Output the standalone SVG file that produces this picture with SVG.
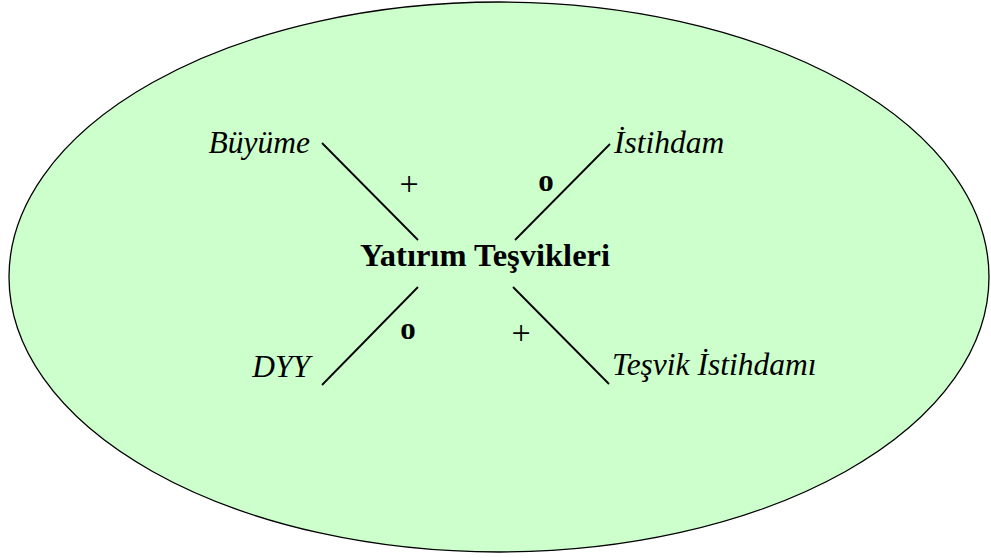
<svg xmlns="http://www.w3.org/2000/svg" width="991" height="558" viewBox="0 0 991 558">
<style>
.lbl{font-family:"Liberation Serif","Times New Roman",serif;font-size:31.5px;font-style:italic;fill:#000}
.sign{font-family:"Liberation Serif","Times New Roman",serif;font-size:34px;fill:#000}
.bold{font-weight:bold;font-size:31px}
.conn line{stroke:#000;stroke-width:1.8}
</style>
<rect width="991" height="558" fill="#ffffff"/>
<g id="bg">
<ellipse cx="499" cy="277" rx="490" ry="275" fill="#CCFFCC" stroke="#000" stroke-width="1.3"/>
</g>
<g id="center"><text x="485" y="266" text-anchor="middle" font-family="Liberation Serif, Times New Roman, serif" font-size="32.5" font-weight="bold">Yatırım Teşvikleri</text></g>
<g id="buyume"><text class="lbl" x="310" y="153" text-anchor="end">Büyüme</text></g>
<g id="istihdam"><text class="lbl" x="614" y="153">İstihdam</text></g>
<g id="dyy"><text class="lbl" x="310" y="377" text-anchor="end">DYY</text></g>
<g id="tesvik"><text class="lbl" x="612" y="375">Teşvik İstihdamı</text></g>
<g class="conn" id="connectors">
<line x1="322" y1="143" x2="418" y2="240"/>
<line x1="515" y1="240" x2="610" y2="144"/>
<line x1="418" y1="287" x2="322" y2="385"/>
<line x1="513" y1="287" x2="609" y2="384"/>
</g>
<g id="signs">
<text class="sign" x="409" y="195" text-anchor="middle">+</text>
<text class="sign bold" x="546" y="191" text-anchor="middle">o</text>
<text class="sign bold" x="408" y="339" text-anchor="middle">o</text>
<text class="sign" x="521" y="344" text-anchor="middle">+</text>
</g>
</svg>
